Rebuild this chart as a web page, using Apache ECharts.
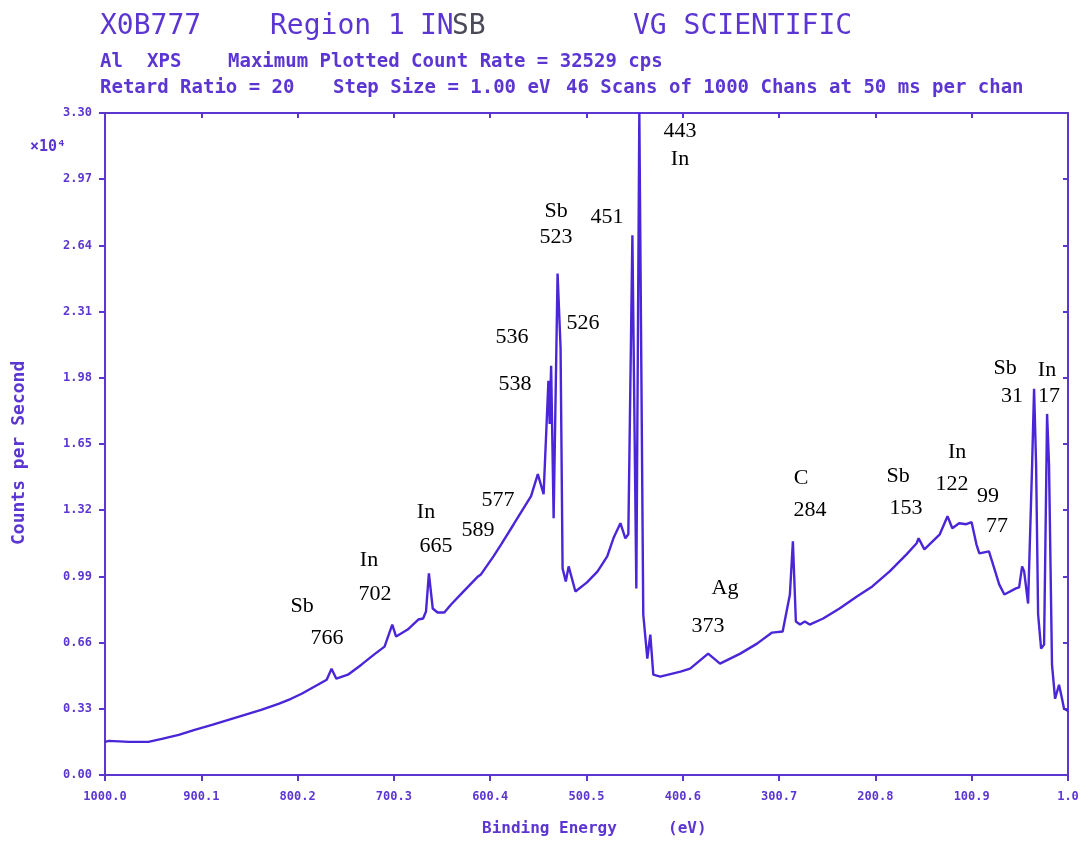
<!DOCTYPE html>
<html><head><meta charset="utf-8">
<script src="https://cdn.jsdelivr.net/npm/echarts@6/dist/echarts.min.js"></script>
<style>html,body{margin:0;padding:0;background:#fff}#c{width:1080px;height:841px}</style>
</head><body><div id="c"></div>
<script>
// Binding energy (eV) and count rate (x10^4 counts per second)
const bindingEnergy = [1000, 995.9, 975, 955, 941, 923.5, 907, 889, 872, 855, 838, 820, 807, 796, 783, 770, 765, 760, 748, 734, 721, 710, 702, 698, 686, 675, 670, 667, 664, 660, 655, 648, 641, 631, 613, 610, 597, 589, 576, 558, 551, 545, 540, 538.7, 537.2, 534.6, 530.5, 527.4, 525.3, 522, 519, 512, 500, 489, 479, 472.6, 465.3, 460.2, 457.1, 452.9, 448.8, 445.7, 441.6, 437.4, 434.3, 431.2, 424, 403, 393, 374.3, 362, 341, 323.6, 308, 297, 289.5, 286.4, 283.3, 279, 274, 269, 255, 238, 220, 204, 186, 168.5, 158, 156, 150, 134, 126, 121, 114, 106.5, 101, 96, 93, 83, 77.5, 72.4, 67, 55, 51.7, 48.6, 46.5, 42.4, 38.2, 36.2, 34.1, 32, 28.9, 25.8, 22.7, 20.7, 17.6, 14.4, 10.3, 7.2, 5.1, 1];
const countRate = [0.165, 0.17, 0.165, 0.165, 0.18, 0.20, 0.225, 0.25, 0.275, 0.30, 0.325, 0.355, 0.38, 0.405, 0.44, 0.475, 0.53, 0.48, 0.50, 0.55, 0.60, 0.64, 0.75, 0.69, 0.725, 0.775, 0.78, 0.815, 1.005, 0.83, 0.81, 0.81, 0.85, 0.90, 0.99, 1.00, 1.09, 1.15, 1.25, 1.39, 1.50, 1.40, 1.965, 1.75, 2.04, 1.28, 2.50, 2.13, 1.03, 0.965, 1.04, 0.915, 0.96, 1.015, 1.09, 1.18, 1.255, 1.18, 1.20, 2.69, 0.93, 3.30, 0.80, 0.58, 0.70, 0.50, 0.49, 0.515, 0.53, 0.605, 0.555, 0.605, 0.655, 0.71, 0.715, 0.90, 1.165, 0.765, 0.75, 0.765, 0.75, 0.78, 0.83, 0.89, 0.94, 1.015, 1.10, 1.155, 1.18, 1.125, 1.20, 1.29, 1.23, 1.255, 1.25, 1.26, 1.15, 1.105, 1.115, 1.03, 0.95, 0.90, 0.93, 0.935, 1.04, 1.015, 0.855, 1.55, 1.925, 1.55, 0.80, 0.63, 0.65, 1.80, 1.55, 0.55, 0.38, 0.45, 0.38, 0.33, 0.32];

const xTickValues = [1.0, 100.9, 200.8, 300.7, 400.6, 500.5, 600.4, 700.3, 800.2, 900.1, 1000.0];
const yTickValues = [0.00, 0.33, 0.66, 0.99, 1.32, 1.65, 1.98, 2.31, 2.64, 2.97, 3.30];

// Peak annotations: text, binding energy, count rate where the text sits
const peakText = ['443', 'In', 'Sb', '523', '451', '526', '536', '538', '577', '589', 'In', '665', 'In', '702', 'Sb', '766', 'Ag', '373', 'C', '284', 'Sb', '153', 'In', '122', '99', '77', 'Sb', '31', 'In', '17'];
const peakTextBE = [403.5, 403.5, 532.1, 532.1, 479.2, 504.1, 577.8, 574.7, 592.3, 613.0, 667.0, 656.6, 726.1, 719.9, 795.6, 769.7, 356.8, 374.4, 277.9, 268.6, 177.3, 169.0, 116.1, 121.3, 84.0, 74.7, 66.3, 59.1, 22.8, 20.7];
const peakTextY = [3.21, 3.07, 2.81, 2.68, 2.78, 2.25, 2.18, 1.95, 1.37, 1.22, 1.31, 1.14, 1.07, 0.90, 0.84, 0.68, 0.93, 0.74, 1.48, 1.32, 1.49, 1.33, 1.61, 1.45, 1.39, 1.24, 2.03, 1.89, 2.02, 1.89];

const PURPLE = '#5b36d2';
const LINE = '#4a26d8';
const MONO = 'DejaVu Sans Mono';

const chart = echarts.init(document.getElementById('c'), null, {renderer: 'canvas'});

const curve = bindingEnergy.map((e, i) => [e, countRate[i]]);
const notes = peakText.map((t, i) => ({name: t, value: [peakTextBE[i], peakTextY[i]]}));

function txt(text, left, top, size, weight, color, extra) {
  return Object.assign({
    type: 'text', left: left, top: top,
    style: {text: text, font: (weight || 'normal') + ' ' + size + 'px "' + MONO + '"', fill: color || PURPLE}
  }, extra || {});
}

const axisCommon = {
  type: 'value', min: 1, max: 1000, inverse: true,
  axisLine: {show: true, onZero: false, lineStyle: {color: PURPLE, width: 2}},
  splitLine: {show: false}
};

chart.setOption({
  animation: false,
  backgroundColor: '#ffffff',
  grid: {left: 105, right: 12, top: 113, bottom: 66, containLabel: false, outerBoundsMode: 'none'},
  xAxis: [
    Object.assign({}, axisCommon, {
      position: 'bottom',
      axisTick: {show: true, length: 6, customValues: xTickValues, lineStyle: {color: PURPLE, width: 2}},
      axisLabel: {show: true, customValues: xTickValues, formatter: v => Number(v).toFixed(1),
        fontFamily: MONO, fontWeight: 'bold', fontSize: 12, color: PURPLE, margin: 16}
    }),
    Object.assign({}, axisCommon, {
      position: 'top',
      axisTick: {show: true, inside: true, length: 5, customValues: xTickValues, lineStyle: {color: PURPLE, width: 2}},
      axisLabel: {show: false}
    })
  ],
  yAxis: [
    {type: 'value', position: 'left', min: 0, max: 3.3, interval: 0.33,
      axisLine: {show: true, onZero: false, lineStyle: {color: PURPLE, width: 2}},
      axisTick: {show: true, length: 6, lineStyle: {color: PURPLE, width: 2}},
      axisLabel: {show: true, formatter: v => Number(v).toFixed(2), fontFamily: MONO, fontWeight: 'bold', fontSize: 12, color: PURPLE, margin: 13},
      splitLine: {show: false}},
    {type: 'value', position: 'right', min: 0, max: 3.3, interval: 0.33,
      axisLine: {show: true, onZero: false, lineStyle: {color: PURPLE, width: 2}},
      axisTick: {show: true, inside: true, length: 5, lineStyle: {color: PURPLE, width: 2}},
      axisLabel: {show: false}, splitLine: {show: false}}
  ],
  series: [
    {type: 'line', xAxisIndex: 0, yAxisIndex: 0, data: curve, showSymbol: false, symbol: 'none',
      smooth: false, sampling: 'none', clip: true,
      lineStyle: {color: LINE, width: 2.4}},
    {type: 'scatter', xAxisIndex: 0, yAxisIndex: 0, data: notes, symbolSize: 0,
      itemStyle: {color: '#000000'}, silent: true,
      label: {show: true, position: 'inside', formatter: p => p.name, opacity: 1,
        fontFamily: 'Liberation Serif', fontSize: 22, color: '#000000', textBorderWidth: 0}}
  ],
  graphic: [
    txt('X0B777', 100, 13, 28, 'normal'),
    txt('Region 1', 270, 13, 28, 'normal'),
    txt('IN', 420, 13, 28, 'normal'),
    txt('SB', 452, 13, 28, 'normal', '#4a4a58'),
    txt('VG SCIENTIFIC', 633, 13, 28, 'normal'),
    txt('Al', 100, 53, 19, 'bold'),
    txt('XPS', 147, 53, 19, 'bold'),
    txt('Maximum Plotted Count Rate = 32529 cps', 228, 53, 19, 'bold'),
    txt('Retard Ratio = 20', 100, 79, 19, 'bold'),
    txt('Step Size = 1.00 eV', 333, 79, 19, 'bold'),
    txt('46 Scans of 1000 Chans at 50 ms per chan', 566, 79, 19, 'bold'),
    txt('×10⁴', 30, 140, 15, 'bold'),
    {type: 'text', x: 10, y: 545, rotation: Math.PI / 2,
      style: {text: 'Counts per Second', font: 'bold 18px "' + MONO + '"', fill: PURPLE}},
    txt('Binding Energy', 482, 821, 16, 'bold'),
    txt('(eV)', 668, 821, 16, 'bold')
  ]
});
</script>
</body></html>
